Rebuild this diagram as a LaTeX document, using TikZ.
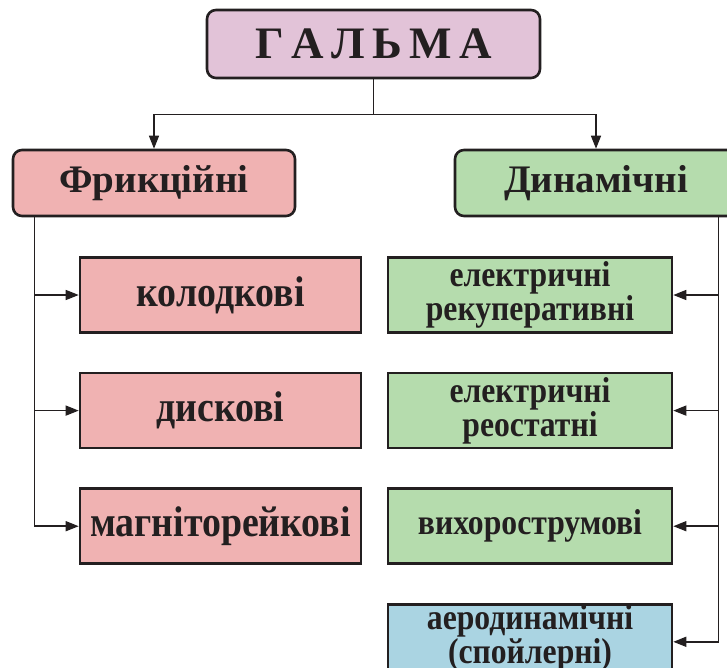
\documentclass[tikz,border=0pt]{standalone}
\usepackage{fontspec}
\setmainfont{Liberation Serif}[BoldFont={Liberation Serif Bold}]
\newfontfamily\narrowserif{Liberation Serif}[BoldFont={Liberation Serif Bold}, FakeStretch=0.88]
\usepackage{xcolor}
\usepackage{tikz}
\usetikzlibrary{positioning,arrows.meta}

\definecolor{inkline}{RGB}{35,31,32}
\definecolor{rootfill}{RGB}{226,195,216}
\definecolor{fricfill}{RGB}{240,178,178}
\definecolor{dynfill}{RGB}{181,220,173}
\definecolor{aerofill}{RGB}{170,212,226}

\begin{document}
\begin{tikzpicture}[
  x=1pt, y=-1pt,
  node distance=38pt and 20pt,
  block/.style={rectangle, draw=inkline, line width=2.6pt, align=center, text=inkline, inner sep=0pt},
  root/.style={block, rounded corners=9pt, fill=rootfill, minimum width=333pt, minimum height=68pt, font=\fontsize{45}{46}\selectfont\bfseries},
  group/.style={block, rounded corners=9pt, minimum width=282pt, minimum height=66pt, font=\fontsize{39}{40}\selectfont\bfseries},
  fricb/.style={block, fill=fricfill, minimum width=281pt, minimum height=75pt, font=\narrowserif\fontsize{43}{44}\selectfont\bfseries},
  dynb/.style={block, fill=dynfill, minimum width=284pt, minimum height=75pt, font=\narrowserif\fontsize{36}{31}\selectfont\bfseries},
  arrow/.style={-{Triangle[length=13pt, width=10pt]}, line width=1.5pt, draw=inkline},
]
\useasboundingbox (0,0) rectangle (727,667);

% Root
\node[root] (gal) at (373.5,44) {Г\,А\,Л\,Ь\,М\,А};

% Two groups
\node[group, fill=fricfill] (fric) at (154,183) {Фрикційні};
\node[group, fill=dynfill] (dyn) at (596,183) {Динамічні};

% Friction brakes (left column)
\node[fricb] (kol) at (220.5,295) {колодкові};
\node[fricb, below=of kol] (disk) {дискові};
\node[fricb, below=of disk] (magn) {магніторейкові};

% Dynamic brakes (right column)
\node[dynb] (rec) at (530,295) {електричні\\рекуперативні};
\node[dynb, below=of rec] (reo) {електричні\\реостатні};
\node[dynb, below=of reo] (vikh) {вихорострумові};
\node[dynb, fill=aerofill, text depth=16pt, below=of vikh] (aero) {аеродинамічні\\(спойлерні)};

% Arrows: root to groups
\draw[arrow] (gal.south) -- ++(0,35) -| (fric.north);
\draw[arrow] (gal.south) -- ++(0,35) -| (dyn.north);

% Arrows: left bus
\foreach \n in {kol,disk,magn}
  \draw[arrow] ([xshift=23pt]fric.south west) |- (\n);

% Arrows: right bus
\foreach \n in {rec,reo,vikh,aero}
  \draw[arrow] ([xshift=-20pt]dyn.south east) |- (\n);

\end{tikzpicture}
\end{document}
